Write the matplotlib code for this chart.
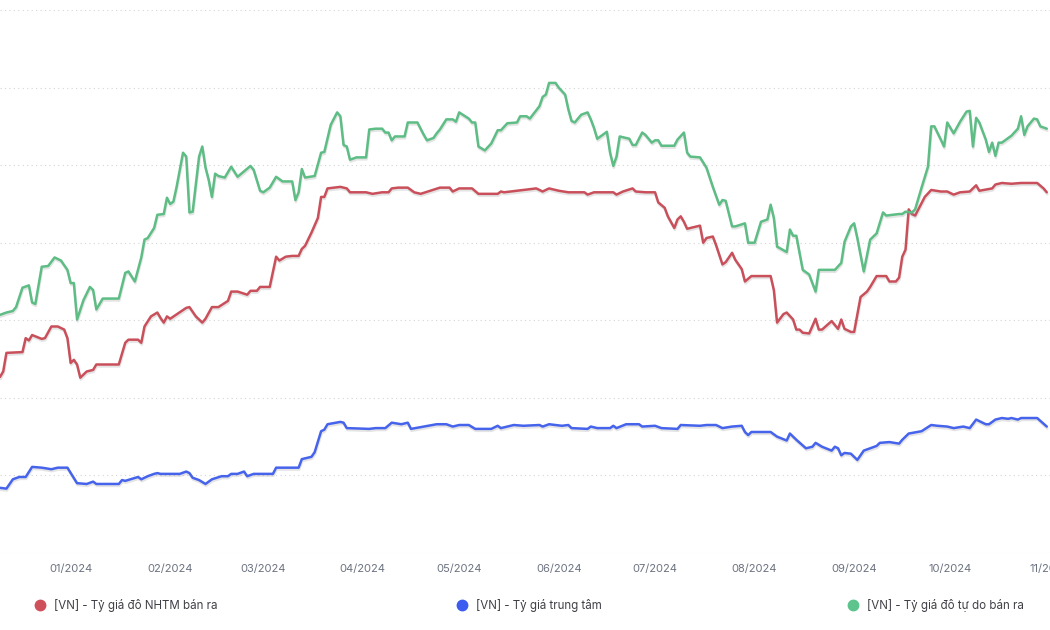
import matplotlib
matplotlib.use("Agg")
import matplotlib.pyplot as plt
import matplotlib.dates as mdates
import matplotlib.patheffects as pe
from matplotlib.lines import Line2D
import pandas as pd

plt.rcParams["font.family"] = ["Inter", "DejaVu Sans"]

# [VN] - Tỷ giá đô tự do bán ra
free_dates = [
    "2023-12-10", "2023-12-12", "2023-12-14", "2023-12-15", "2023-12-17", "2023-12-19", "2023-12-20",
    "2023-12-21", "2023-12-23", "2023-12-25", "2023-12-27", "2023-12-29", "2023-12-31", "2024-01-01",
    "2024-01-02", "2024-01-03", "2024-01-05", "2024-01-07", "2024-01-08", "2024-01-09", "2024-01-11",
    "2024-01-16", "2024-01-18", "2024-01-19", "2024-01-21", "2024-01-23", "2024-01-24", "2024-01-25",
    "2024-01-27", "2024-01-28", "2024-01-30", "2024-01-31", "2024-02-01", "2024-02-02", "2024-02-03",
    "2024-02-05", "2024-02-06", "2024-02-07", "2024-02-08", "2024-02-10", "2024-02-11", "2024-02-12",
    "2024-02-13", "2024-02-14", "2024-02-15", "2024-02-16", "2024-02-18", "2024-02-20", "2024-02-22",
    "2024-02-26", "2024-02-27", "2024-02-29", "2024-03-01", "2024-03-03", "2024-03-05", "2024-03-07",
    "2024-03-10", "2024-03-11", "2024-03-12", "2024-03-13", "2024-03-14", "2024-03-17", "2024-03-19",
    "2024-03-20", "2024-03-22", "2024-03-24", "2024-03-25", "2024-03-26", "2024-03-27", "2024-03-28",
    "2024-03-30", "2024-04-02", "2024-04-03", "2024-04-05", "2024-04-07", "2024-04-08", "2024-04-09",
    "2024-04-10", "2024-04-11", "2024-04-14", "2024-04-15", "2024-04-18", "2024-04-20", "2024-04-21",
    "2024-04-23", "2024-04-24", "2024-04-25", "2024-04-27", "2024-04-29", "2024-04-30", "2024-05-01",
    "2024-05-04", "2024-05-05", "2024-05-06", "2024-05-07", "2024-05-09", "2024-05-11", "2024-05-13",
    "2024-05-14", "2024-05-16", "2024-05-19", "2024-05-20", "2024-05-22", "2024-05-23", "2024-05-26",
    "2024-05-27", "2024-05-28", "2024-05-29", "2024-05-31", "2024-06-01", "2024-06-03", "2024-06-04",
    "2024-06-05", "2024-06-06", "2024-06-08", "2024-06-10", "2024-06-11", "2024-06-12", "2024-06-13",
    "2024-06-16", "2024-06-17", "2024-06-18", "2024-06-19", "2024-06-20", "2024-06-22", "2024-06-23",
    "2024-06-24", "2024-06-25", "2024-06-27", "2024-06-28", "2024-06-30", "2024-07-01", "2024-07-02",
    "2024-07-03", "2024-07-07", "2024-07-08", "2024-07-10", "2024-07-11", "2024-07-12", "2024-07-15",
    "2024-07-17", "2024-07-19", "2024-07-21", "2024-07-22", "2024-07-23", "2024-07-25", "2024-07-26",
    "2024-07-29", "2024-07-30", "2024-08-01", "2024-08-03", "2024-08-05", "2024-08-06", "2024-08-07",
    "2024-08-08", "2024-08-11", "2024-08-12", "2024-08-13", "2024-08-14", "2024-08-16", "2024-08-18",
    "2024-08-20", "2024-08-21", "2024-08-24", "2024-08-26", "2024-08-28", "2024-08-29", "2024-08-31",
    "2024-09-01", "2024-09-02", "2024-09-04", "2024-09-06", "2024-09-07", "2024-09-08", "2024-09-10",
    "2024-09-11", "2024-09-15", "2024-09-16", "2024-09-17", "2024-09-19", "2024-09-20", "2024-09-22",
    "2024-09-24", "2024-09-25", "2024-09-26", "2024-09-28", "2024-09-29", "2024-09-30", "2024-10-02",
    "2024-10-04", "2024-10-06", "2024-10-07", "2024-10-08", "2024-10-09", "2024-10-10", "2024-10-12",
    "2024-10-13", "2024-10-14", "2024-10-15", "2024-10-16", "2024-10-17", "2024-10-20", "2024-10-22",
    "2024-10-23", "2024-10-24", "2024-10-25", "2024-10-27", "2024-10-28", "2024-10-29", "2024-10-31",
]
free_rate = [
    25035, 25050, 25060, 25085, 25210, 25225, 25115,
    25105, 25345, 25350, 25405, 25385, 25325, 25240,
    25240, 25005, 25130, 25215, 25195, 25070, 25140,
    25140, 25305, 25315, 25250, 25405, 25520, 25530,
    25595, 25680, 25685, 25790, 25750, 25765, 25860,
    26080, 26055, 25695, 25700, 26055, 26120, 25985,
    25905, 25795, 25945, 25930, 25920, 25990, 25925,
    25995, 25970, 25835, 25825, 25855, 25925, 25895,
    25895, 25775, 25825, 25975, 25920, 25930, 26080,
    26085, 26260, 26340, 26315, 26130, 26120, 26035,
    26050, 26050, 26230, 26235, 26235, 26210, 26210,
    26160, 26185, 26185, 26275, 26275, 26195, 26160,
    26175, 26205, 26230, 26295, 26295, 26280, 26340,
    26300, 26275, 26275, 26120, 26095, 26140, 26225,
    26225, 26270, 26275, 26315, 26315, 26300, 26380,
    26440, 26455, 26530, 26530, 26500, 26455, 26360,
    26285, 26275, 26325, 26340, 26295, 26240, 26170,
    26215, 26080, 25995, 26055, 26185, 26175, 26170,
    26130, 26130, 26210, 26195, 26145, 26160, 26160,
    26125, 26125, 26165, 26210, 26080, 26055, 26050,
    25985, 25860, 25745, 25775, 25770, 25605, 25605,
    25625, 25500, 25500, 25635, 25650, 25745, 25660,
    25475, 25440, 25585, 25545, 25545, 25325, 25295,
    25185, 25325, 25325, 25325, 25370, 25505, 25605,
    25625, 25530, 25315, 25520, 25540, 25560, 25695,
    25675, 25685, 25685, 25700, 25695, 25715, 25855,
    25990, 26250, 26250, 26165, 26120, 26275, 26205,
    26280, 26345, 26350, 26120, 26305, 26275, 26165,
    26085, 26145, 26060, 26145, 26145, 26190, 26235,
    26315, 26195, 26250, 26300, 26295, 26250, 26235,
]

# [VN] - Tỷ giá đô NHTM bán ra
bank_dates = [
    "2023-12-10", "2023-12-11", "2023-12-12", "2023-12-17", "2023-12-18", "2023-12-19", "2023-12-20",
    "2023-12-23", "2023-12-24", "2023-12-26", "2023-12-28", "2023-12-30", "2023-12-31", "2024-01-01",
    "2024-01-02", "2024-01-03", "2024-01-04", "2024-01-06", "2024-01-08", "2024-01-09", "2024-01-16",
    "2024-01-18", "2024-01-19", "2024-01-22", "2024-01-23", "2024-01-24", "2024-01-26", "2024-01-28",
    "2024-01-29", "2024-01-30", "2024-01-31", "2024-02-01", "2024-02-06", "2024-02-07", "2024-02-09",
    "2024-02-11", "2024-02-12", "2024-02-14", "2024-02-16", "2024-02-19", "2024-02-20", "2024-02-22",
    "2024-02-25", "2024-02-26", "2024-02-28", "2024-02-29", "2024-03-03", "2024-03-05", "2024-03-06",
    "2024-03-08", "2024-03-10", "2024-03-12", "2024-03-13", "2024-03-14", "2024-03-16", "2024-03-18",
    "2024-03-19", "2024-03-20", "2024-03-21", "2024-03-25", "2024-03-27", "2024-03-28", "2024-04-02",
    "2024-04-04", "2024-04-07", "2024-04-09", "2024-04-10", "2024-04-12", "2024-04-15", "2024-04-17",
    "2024-04-19", "2024-04-22", "2024-04-25", "2024-04-28", "2024-04-29", "2024-05-01", "2024-05-05",
    "2024-05-07", "2024-05-13", "2024-05-14", "2024-05-15", "2024-05-19", "2024-05-25", "2024-05-27",
    "2024-05-29", "2024-06-01", "2024-06-04", "2024-06-09", "2024-06-10", "2024-06-12", "2024-06-18",
    "2024-06-19", "2024-06-21", "2024-06-24", "2024-06-25", "2024-06-28", "2024-07-01", "2024-07-02",
    "2024-07-04", "2024-07-05", "2024-07-07", "2024-07-08", "2024-07-09", "2024-07-10", "2024-07-11",
    "2024-07-15", "2024-07-16", "2024-07-17", "2024-07-19", "2024-07-20", "2024-07-22", "2024-07-23",
    "2024-07-25", "2024-07-26", "2024-07-28", "2024-07-29", "2024-07-31", "2024-08-06", "2024-08-07",
    "2024-08-08", "2024-08-10", "2024-08-11", "2024-08-13", "2024-08-14", "2024-08-15", "2024-08-16",
    "2024-08-18", "2024-08-20", "2024-08-21", "2024-08-22", "2024-08-25", "2024-08-27", "2024-08-28",
    "2024-08-29", "2024-08-31", "2024-09-01", "2024-09-03", "2024-09-05", "2024-09-06", "2024-09-08",
    "2024-09-11", "2024-09-12", "2024-09-14", "2024-09-15", "2024-09-16", "2024-09-17", "2024-09-18",
    "2024-09-19", "2024-09-20", "2024-09-21", "2024-09-23", "2024-09-25", "2024-09-28", "2024-09-30",
    "2024-10-02", "2024-10-04", "2024-10-07", "2024-10-09", "2024-10-10", "2024-10-14", "2024-10-15",
    "2024-10-17", "2024-10-20", "2024-10-23", "2024-10-25", "2024-10-28", "2024-10-30", "2024-10-31",
]
bank_rate = [
    24635, 24670, 24790, 24795, 24885, 24870, 24905,
    24880, 24885, 24960, 24960, 24940, 24885, 24725,
    24745, 24715, 24630, 24670, 24680, 24715, 24715,
    24855, 24875, 24875, 24855, 24960, 25025, 25050,
    25015, 24985, 25025, 25010, 25080, 25085, 25025,
    24985, 25010, 25085, 25085, 25125, 25185, 25185,
    25165, 25190, 25190, 25215, 25215, 25410, 25385,
    25410, 25415, 25415, 25460, 25480, 25565, 25660,
    25795, 25795, 25850, 25860, 25850, 25825, 25825,
    25815, 25825, 25825, 25850, 25855, 25855, 25825,
    25815, 25835, 25855, 25855, 25830, 25850, 25850,
    25815, 25815, 25830, 25825, 25835, 25850, 25830,
    25850, 25835, 25825, 25825, 25810, 25825, 25825,
    25810, 25830, 25850, 25830, 25825, 25825, 25760,
    25725, 25670, 25595, 25650, 25670, 25635, 25590,
    25610, 25500, 25530, 25540, 25485, 25360, 25375,
    25435, 25390, 25330, 25250, 25285, 25285, 25195,
    24985, 25040, 25050, 25005, 24940, 24940, 24920,
    24915, 25010, 24940, 24940, 24995, 24945, 25005,
    24945, 24925, 24925, 25150, 25185, 25215, 25285,
    25285, 25250, 25250, 25275, 25410, 25455, 25715,
    25685, 25675, 25715, 25795, 25840, 25830, 25830,
    25810, 25825, 25830, 25870, 25835, 25850, 25875,
    25885, 25880, 25885, 25885, 25885, 25850, 25825,
]

# [VN] - Tỷ giá trung tâm
central_dates = [
    "2023-12-10", "2023-12-12", "2023-12-14", "2023-12-16", "2023-12-18", "2023-12-20", "2023-12-23",
    "2023-12-26", "2023-12-28", "2023-12-31", "2024-01-03", "2024-01-06", "2024-01-08", "2024-01-09",
    "2024-01-16", "2024-01-17", "2024-01-18", "2024-01-22", "2024-01-23", "2024-01-25", "2024-01-27",
    "2024-01-28", "2024-01-29", "2024-02-04", "2024-02-06", "2024-02-07", "2024-02-08", "2024-02-10",
    "2024-02-12", "2024-02-14", "2024-02-17", "2024-02-19", "2024-02-20", "2024-02-22", "2024-02-24",
    "2024-02-25", "2024-02-27", "2024-03-04", "2024-03-05", "2024-03-12", "2024-03-13", "2024-03-16",
    "2024-03-17", "2024-03-19", "2024-03-20", "2024-03-21", "2024-03-25", "2024-03-26", "2024-03-27",
    "2024-04-03", "2024-04-05", "2024-04-08", "2024-04-10", "2024-04-13", "2024-04-15", "2024-04-16",
    "2024-04-20", "2024-04-24", "2024-04-27", "2024-04-29", "2024-05-01", "2024-05-04", "2024-05-06",
    "2024-05-11", "2024-05-13", "2024-05-14", "2024-05-18", "2024-05-21", "2024-05-26", "2024-05-27",
    "2024-05-29", "2024-06-02", "2024-06-04", "2024-06-05", "2024-06-10", "2024-06-11", "2024-06-13",
    "2024-06-17", "2024-06-18", "2024-06-19", "2024-06-22", "2024-06-26", "2024-06-27", "2024-07-01",
    "2024-07-03", "2024-07-08", "2024-07-09", "2024-07-15", "2024-07-17", "2024-07-20", "2024-07-22",
    "2024-07-25", "2024-07-28", "2024-07-29", "2024-07-30", "2024-07-31", "2024-08-06", "2024-08-08",
    "2024-08-11", "2024-08-12", "2024-08-14", "2024-08-17", "2024-08-19", "2024-08-20", "2024-08-22",
    "2024-08-25", "2024-08-26", "2024-08-27", "2024-08-28", "2024-08-29", "2024-08-31", "2024-09-02",
    "2024-09-04", "2024-09-06", "2024-09-08", "2024-09-09", "2024-09-12", "2024-09-15", "2024-09-16",
    "2024-09-18", "2024-09-22", "2024-09-25", "2024-09-27", "2024-09-30", "2024-10-02", "2024-10-05",
    "2024-10-07", "2024-10-09", "2024-10-12", "2024-10-13", "2024-10-15", "2024-10-17", "2024-10-19",
    "2024-10-20", "2024-10-22", "2024-10-23", "2024-10-28", "2024-10-31",
]
central_rate = [
    23920, 23915, 23975, 23990, 23990, 24055, 24050,
    24040, 24050, 24050, 23950, 23945, 23960, 23945,
    23945, 23970, 23965, 23990, 23975, 23995, 24010,
    24015, 24010, 24010, 24025, 24015, 23985, 23970,
    23945, 23975, 23995, 23995, 24010, 24010, 24025,
    23995, 24010, 24010, 24050, 24050, 24105, 24120,
    24150, 24285, 24295, 24330, 24345, 24340, 24305,
    24300, 24305, 24305, 24340, 24330, 24340, 24300,
    24315, 24330, 24330, 24315, 24325, 24325, 24300,
    24300, 24320, 24305, 24325, 24320, 24325, 24315,
    24330, 24320, 24325, 24305, 24300, 24315, 24305,
    24305, 24320, 24305, 24330, 24330, 24315, 24320,
    24305, 24300, 24325, 24320, 24325, 24325, 24305,
    24315, 24320, 24280, 24260, 24280, 24280, 24250,
    24225, 24270, 24230, 24175, 24185, 24210, 24185,
    24160, 24185, 24175, 24130, 24145, 24140, 24100,
    24160, 24175, 24190, 24210, 24215, 24205, 24230,
    24270, 24285, 24325, 24320, 24315, 24305, 24315,
    24305, 24360, 24330, 24330, 24360, 24370, 24365,
    24370, 24360, 24370, 24370, 24315,
]

series = [
    ("[VN] - Tỷ giá đô NHTM bán ra", bank_dates, bank_rate, "#c9505b", "#cf4f5a"),
    ("[VN] - Tỷ giá trung tâm", central_dates, central_rate, "#4663ec", "#3c5cf0"),
    ("[VN] - Tỷ giá đô tự do bán ra", free_dates, free_rate, "#5dbd85", "#5cc48c"),
]

fig = plt.figure(figsize=(10.5, 6.3), dpi=100)
ax = fig.add_axes([0.0, 1 - 553 / 630, 1.0, 543 / 630])

shadow = [pe.SimpleLineShadow(offset=(0.4, -1.4), shadow_color="#888888", alpha=0.22), pe.Normal()]
for label, dates, values, line_color, _ in series:
    ax.plot(pd.to_datetime(dates), values, color=line_color, linewidth=1.8,
            solid_joinstyle="round", solid_capstyle="round", path_effects=shadow, zorder=3)

# right edge sits on 1 Nov so the "11/2024" label is cut by the figure edge
ax.set_xlim(pd.Timestamp("2023-12-10"), pd.Timestamp("2024-11-01"))
ax.set_ylim(23500, 27000)
ax.set_yticks(range(23500, 27001, 500))
ax.tick_params(axis="y", left=False, labelleft=False)
ax.xaxis.set_major_locator(mdates.MonthLocator())
ax.xaxis.set_major_formatter(mdates.DateFormatter("%m/%Y"))
ax.tick_params(axis="x", length=0, pad=8, labelsize=8, labelcolor="#6b7280")
ax.grid(axis="y", color="#d4d4d4", linestyle=(0, (1, 3)), linewidth=0.8)
for spine in ax.spines.values():
    spine.set_visible(False)

# legend row under the axis
legend_x = [40, 462, 853]
for (label, _, _, _, dot_color), x in zip(series, legend_x):
    fig.add_artist(Line2D([x / 1050], [1 - 605 / 630], transform=fig.transFigure,
                          marker="o", markersize=7.5, color=dot_color, linestyle="none"))
    fig.text((x + 14) / 1050, 1 - 605 / 630, label, fontsize=8.3, color="#3f3f46",
             va="center", ha="left")

fig.savefig("out.png", dpi=100)
